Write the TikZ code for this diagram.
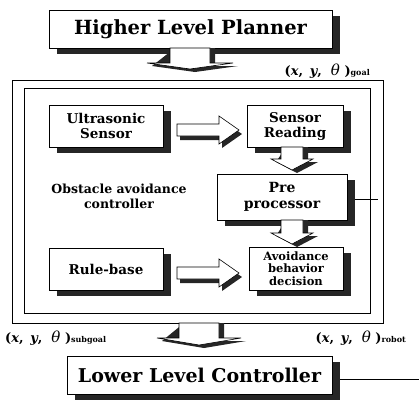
\documentclass[tikz,border=0pt]{standalone}
\usepackage{fontspec}
\setmainfont{DejaVu Serif}
\usetikzlibrary{shadows}
\newcommand\blkdown[6]{% cx, ytop, shaft half width, shaft length, head half width, head length
  \fill[black!85] ({#1-#3+5},{#2}) -- ({#1+#3+5},{#2}) -- ({#1+#3+5},{#2+#4+3}) -- ({#1+#5+5},{#2+#4+3}) -- ({#1+5},{#2+#4+#6+3}) -- ({#1-#5+5},{#2+#4+3}) -- cycle;
  \draw[fill=white, line width=0.6pt] ({#1-#3},{#2}) -- ({#1+#3},{#2}) -- ({#1+#3},{#2+#4}) -- ({#1+#5},{#2+#4}) -- ({#1},{#2+#4+#6}) -- ({#1-#5},{#2+#4}) -- ({#1-#3},{#2+#4}) -- cycle;}
\newcommand\blkright[6]{% xleft, cy, shaft half height, shaft length, head half height, head length
  \fill[black!85] ({#1+3},{#2-#3+4}) -- ({#1+#4+3},{#2-#3+4}) -- ({#1+#4+3},{#2-#5+4}) -- ({#1+#4+#6+3},{#2+4}) -- ({#1+#4+3},{#2+#5+4}) -- ({#1+#4+3},{#2+#3+4}) -- ({#1+3},{#2+#3+4}) -- cycle;
  \draw[fill=white, line width=0.6pt] ({#1},{#2-#3}) -- ({#1+#4},{#2-#3}) -- ({#1+#4},{#2-#5}) -- ({#1+#4+#6},{#2}) -- ({#1+#4},{#2+#5}) -- ({#1+#4},{#2+#3}) -- ({#1},{#2+#3}) -- cycle;}
\newcommand\pose[1]{\bfseries\fontsize{13}{15}\selectfont(\textit{x},\, \textit{y},\ \ {\mdseries\itshape\fontsize{15}{15}\selectfont θ}\ )\fontsize{8}{9}\selectfont #1}
\begin{document}
\begin{tikzpicture}[x=1pt,y=-1pt,
  box/.style={draw=black, line width=0.7pt, fill=white, align=center, inner sep=0pt,
    drop shadow={shadow xshift=8pt, shadow yshift=-6pt, fill=black!85, opacity=1}},
  frame/.style={draw=black, line width=0.6pt},
  lbl/.style={inner sep=1pt, align=center},
  sig/.style={draw=black, line width=0.6pt}]
\useasboundingbox (0,0) rectangle (419,400);

% frames
\draw[frame] (12,80) rectangle (383,323);
\draw[frame] (24,88) rectangle (370,313);

% boxes
\node[box, minimum width=283pt, minimum height=38pt, font=\bfseries\fontsize{19.5}{21}\selectfont] (hlp) at (190.5,29) {Higher Level Planner};
\node[box, minimum width=114pt, minimum height=42pt, font=\bfseries\fontsize{13.5}{15}\selectfont] (us) at (106,126) {Ultrasonic\\Sensor};
\node[box, minimum width=96pt, minimum height=42pt, font=\bfseries\fontsize{13.5}{15}\selectfont] (sr) at (295,126) {Sensor\\Reading};
\node[box, minimum width=130pt, minimum height=46pt, font=\bfseries\fontsize{14}{16}\selectfont] (pp) at (282,197) {Pre\\processor};
\node[box, minimum width=114pt, minimum height=42pt, font=\bfseries\fontsize{13.5}{15}\selectfont] (rb) at (106,269) {Rule-base};
\node[box, minimum width=94pt, minimum height=43pt, font=\bfseries\fontsize{11.5}{12.5}\selectfont] (ab) at (296,268.5) {Avoidance\\behavior\\decision};
\node[box, minimum width=265pt, minimum height=38pt, font=\bfseries\fontsize{19}{21}\selectfont] (llc) at (199.5,375) {Lower Level Controller};

% block arrows
\blkdown{190}{48}{20}{15}{43}{6}
\blkright{177}{130}{6}{42}{14}{20}
\blkdown{292}{147}{11}{12}{21}{11}
\blkdown{292}{220}{11}{13}{21}{11}
\blkright{177}{273}{6}{42}{14}{20}
\blkdown{199}{323}{20}{15}{42}{7}

% labels
\node[lbl, fill=white, anchor=east] (goal) at (371,71) {\pose{goal}};
\node[lbl, font=\bfseries\fontsize{12.5}{15}\selectfont] (obs) at (119,196) {Obstacle avoidance\\controller};
\node[lbl, anchor=west] (sub) at (4,338) {\pose{subgoal}};
\node[lbl, anchor=east] (rob) at (407,338) {\pose{robot}};

% signal lines
\coordinate (ppend) at (378,199);
\coordinate (llcend) at (419,379);
\draw[sig] ([xshift=8pt]pp.east |- ppend) -- (ppend);
\draw[sig] ([xshift=8pt]llc.east |- llcend) -- (llcend);
\end{tikzpicture}
\end{document}
